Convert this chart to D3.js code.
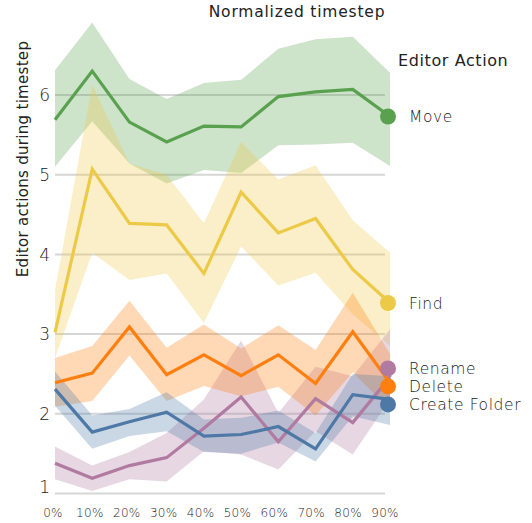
<!DOCTYPE html>
<html><head><meta charset="utf-8">
<script src="https://cdn.jsdelivr.net/npm/d3@7"></script>
<style>
html,body{margin:0;padding:0;background:#fff;}
text{font-family:"DejaVu Sans",sans-serif;fill:#222;}
</style></head>
<body><svg id="c" width="532" height="523"></svg>
<script>
const steps = [0, 0.1, 0.2, 0.3, 0.4, 0.5, 0.6, 0.7, 0.8, 0.9];
const tickLabels = ["0%","10%","20%","30%","40%","50%","60%","70%","80%","90%"];
const yTicks = [1, 2, 3, 4, 5, 6];
const actions = ["Move", "Find", "Rename", "Delete", "Create Folder"];
const colors = ["#59a14f", "#edc948", "#b07aa1", "#ff7f0e", "#4e79a7"];

const moveMean  = [5.69, 6.30, 5.66, 5.41, 5.61, 5.60, 5.98, 6.04, 6.07, 5.73];
const moveHi    = [6.31, 6.91, 6.20, 5.95, 6.15, 6.19, 6.58, 6.70, 6.73, 6.28];
const moveLo    = [5.10, 5.67, 5.14, 4.89, 5.06, 5.02, 5.37, 5.38, 5.40, 5.11];

const findMean  = [3.02, 5.07, 4.39, 4.37, 3.76, 4.78, 4.27, 4.45, 3.81, 3.39];
const findHi    = [3.55, 6.13, 5.14, 5.00, 4.39, 5.41, 4.94, 5.12, 4.43, 4.02];
const findLo    = [2.70, 4.02, 3.68, 3.76, 3.14, 4.10, 3.61, 3.77, 3.25, 2.85];

const renameMean = [1.38, 1.19, 1.35, 1.45, 1.82, 2.21, 1.65, 2.19, 1.89, 2.46];
const renameHi   = [1.59, 1.35, 1.52, 1.76, 2.18, 2.92, 2.01, 2.59, 2.47, 3.06];
const renameLo   = [1.18, 1.03, 1.18, 1.15, 1.53, 1.49, 1.30, 1.78, 1.49, 2.18];

const deleteMean = [2.39, 2.51, 3.09, 2.49, 2.74, 2.48, 2.74, 2.38, 3.03, 2.39];
const deleteHi   = [2.70, 2.85, 3.42, 2.83, 3.12, 2.82, 3.11, 2.80, 3.52, 2.75];
const deleteLo   = [2.09, 2.16, 2.73, 2.16, 2.35, 2.22, 2.34, 1.98, 2.52, 2.05];

const folderMean = [2.31, 1.77, 1.90, 2.02, 1.72, 1.74, 1.84, 1.56, 2.24, 2.18];
const folderHi   = [2.53, 1.98, 2.06, 2.27, 1.93, 1.95, 2.04, 1.76, 2.50, 2.47];
const folderLo   = [2.10, 1.56, 1.72, 1.78, 1.52, 1.50, 1.64, 1.40, 1.97, 1.86];

const series = [
  {name: actions[0], color: colors[0], mean: moveMean, hi: moveHi, lo: moveLo},
  {name: actions[1], color: colors[1], mean: findMean, hi: findHi, lo: findLo},
  {name: actions[2], color: colors[2], mean: renameMean, hi: renameHi, lo: renameLo},
  {name: actions[3], color: colors[3], mean: deleteMean, hi: deleteHi, lo: deleteLo},
  {name: actions[4], color: colors[4], mean: folderMean, hi: folderHi, lo: folderLo}
];

const svg = d3.select("#c");
const x = d3.scaleLinear().domain([0, 0.9]).range([55, 390]);
const xAxis = d3.scalePoint().domain(tickLabels).range([53, 385]);
const y = d3.scaleLinear().domain([1, 6]).range([493.5, 95]);

// gridlines
svg.append("g").selectAll("line").data(yTicks).join("line")
  .attr("x1", 55).attr("x2", 385)
  .attr("y1", d => y(d)).attr("y2", d => y(d))
  .attr("stroke", "#d6d6d6").attr("stroke-width", 2);

// y tick labels
svg.append("g").selectAll("text").data(yTicks).join("text")
  .attr("x", 50).attr("y", d => y(d) - (d === 1 ? 7 : 0)).attr("dy", "0.36em")
  .attr("text-anchor", "end").attr("font-size", 17).attr("font-weight", 200)
  .text(d => d);

// x tick labels
svg.append("g").selectAll("text").data(tickLabels).join("text")
  .attr("x", d => xAxis(d)).attr("y", 517)
  .attr("text-anchor", "middle").attr("font-size", 12).attr("font-weight", 200)
  .attr("letter-spacing", 0.3)
  .text(d => d);

// bands
const area = d3.area().x((d, i) => x(steps[i])).y0(d => y(d[0])).y1(d => y(d[1]));
svg.append("g").selectAll("path").data(series).join("path")
  .attr("d", s => area(s.lo.map((v, i) => [v, s.hi[i]])))
  .attr("fill", s => s.color).attr("fill-opacity", 0.3);

// lines
const line = d3.line().x((d, i) => x(steps[i])).y(d => y(d));
svg.append("g").selectAll("path").data(series).join("path")
  .attr("d", s => line(s.mean))
  .attr("fill", "none").attr("stroke", s => s.color).attr("stroke-width", 3.2);

// end labels with dodge
const ends = series.map(s => ({s, y0: y(s.mean[s.mean.length - 1])}));
ends.forEach(e => e.y = e.y0);
const gap = 18;
for (let iter = 0; iter < 50; iter++) {
  ends.sort((a, b) => a.y0 - b.y0);
  let groups = [];
  ends.forEach(e => {
    const g = groups[groups.length - 1];
    if (g) {
      const last = g.items[g.items.length - 1];
      const gy = g.start + (g.items.length) * gap;
      if (last.y + gap > e.y0 && gy > e.y0 - 0.001) { g.items.push(e); }
      else groups.push({items: [e]});
    } else groups.push({items: [e]});
    const cg = groups[groups.length - 1];
    const m = d3.mean(cg.items, d => d.y0);
    cg.start = m - (cg.items.length - 1) * gap / 2;
    cg.items.forEach((d, k) => d.y = cg.start + k * gap);
  });
}
const lx = x(0.9) - 2;
const lg = svg.append("g");
lg.selectAll("line").data(ends).join("line")
  .attr("x1", x(0.9)).attr("y1", d => d.y0).attr("x2", lx).attr("y2", d => d.y)
  .attr("stroke", d => d.s.color).attr("stroke-width", 3);
lg.selectAll("circle").data(ends).join("circle")
  .attr("cx", lx).attr("cy", d => d.y).attr("r", 8).attr("fill", d => d.s.color);
lg.selectAll("text").data(ends).join("text")
  .attr("x", 409).attr("y", d => d.y).attr("dy", "0.36em")
  .attr("font-size", 15.5).attr("font-weight", 300).attr("letter-spacing", 0.6)
  .text(d => d.s.name);

// titles
svg.append("text").attr("x", 297).attr("y", 17).attr("text-anchor", "middle")
  .attr("font-size", 15.5).attr("letter-spacing", 0.8).text("Normalized timestep");
svg.append("text").attr("x", 398).attr("y", 66).attr("font-size", 16)
  .attr("letter-spacing", 0.6).text("Editor Action");
svg.append("text").attr("transform", "translate(28,159) rotate(-90)")
  .attr("text-anchor", "middle").attr("font-size", 15).attr("letter-spacing", 0.3)
  .text("Editor actions during timestep");
</script></body></html>
